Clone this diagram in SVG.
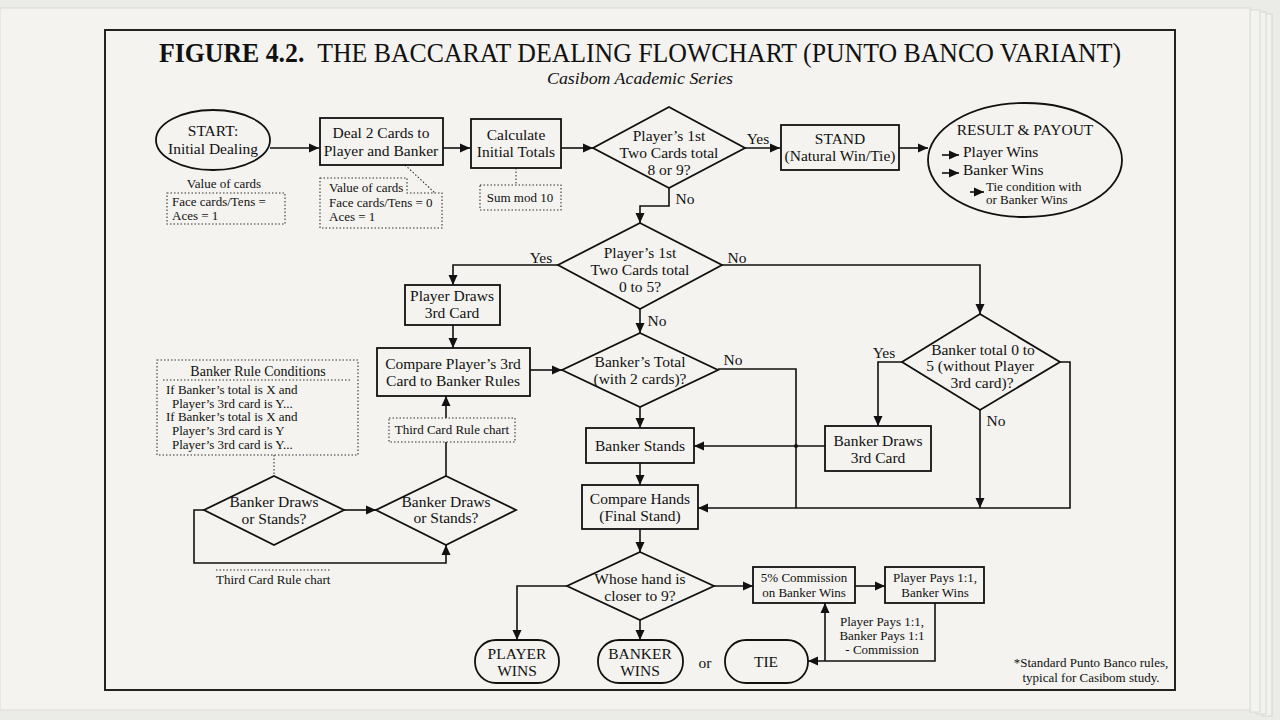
<svg xmlns="http://www.w3.org/2000/svg" width="1280" height="720" viewBox="0 0 1280 720">
<defs>
<marker id="ah" markerUnits="userSpaceOnUse" markerWidth="11" markerHeight="10" refX="10" refY="5" orient="auto">
<path d="M0,0.5 L10,5 L0,9.5 z" fill="#111"/>
</marker>
<style>
text{font-family:"Liberation Serif","DejaVu Serif",serif;fill:#111;}
.t{font-size:15.5px;text-anchor:middle;}
.s{font-size:13px;text-anchor:middle;}
.sl{font-size:13px;}
.box{fill:#f4f3ef;stroke:#111;stroke-width:1.8;}
.dot{fill:#f4f3ef;stroke:#333;stroke-width:1.1;stroke-dasharray:1.5 2;}
.dl{fill:none;stroke:#333;stroke-width:1.1;stroke-dasharray:1.5 2;}
.c{fill:none;stroke:#111;stroke-width:1.6;}
.ca{fill:none;stroke:#111;stroke-width:1.6;marker-end:url(#ah);}
</style>
</defs>
<rect width="1280" height="720" fill="#ebebe8"/>
<g id="pages">
<rect x="1262" y="14" width="10" height="702" fill="#f1f1ee" stroke="#d6d6d2"/>
<rect x="1256" y="12" width="10" height="702" fill="#f2f2ef" stroke="#d6d6d2"/>
<rect x="1250" y="10" width="10" height="702" fill="#f3f3f0" stroke="#d8d8d4"/>
<rect x="0" y="8" width="1250" height="702" fill="#f4f3ef" stroke="#dcdcd8"/>
</g>
<rect x="105" y="30" width="1070" height="660" fill="#f4f3ef" stroke="#222" stroke-width="2"/>
<g id="title">
<text x="640" y="62" font-size="28" text-anchor="middle" textLength="962" lengthAdjust="spacingAndGlyphs"><tspan font-weight="bold">FIGURE 4.2.</tspan><tspan dx="14">THE BACCARAT DEALING FLOWCHART (PUNTO BANCO VARIANT)</tspan></text>
<text x="640" y="84" font-size="17" font-style="italic" text-anchor="middle" textLength="186" lengthAdjust="spacingAndGlyphs">Casibom Academic Series</text>
</g>
<g id="connectors">
<path class="ca" d="M270,148 H319"/>
<path class="ca" d="M443,148 H470"/>
<path class="ca" d="M561,148 H593"/>
<path class="ca" d="M745,148 H780"/>
<path class="ca" d="M899,148 H928"/>
<path class="ca" d="M669,188 V206 H640 V223"/>
<path class="ca" d="M558,265 H453 V285"/>
<path class="ca" d="M722,265 H980 V314"/>
<path class="ca" d="M640,309 V333"/>
<path class="ca" d="M453,325 V348"/>
<path class="ca" d="M530,370 H562"/>
<path class="c" d="M718,369 H796 V508"/>
<path class="ca" d="M640,407 V428"/>
<path class="ca" d="M640,463 V485"/>
<path class="ca" d="M1060,362 H1070 V508 H698"/>
<path class="ca" d="M902,362 H878 V426"/>
<path class="ca" d="M980,410 V508"/>
<path class="ca" d="M825,446 H694"/>
<circle cx="796" cy="446" r="2" fill="#111"/>
<path class="ca" d="M344,510 H376"/>
<path class="ca" d="M446,476 V396"/>
<path class="ca" d="M204,510 H194 V563 H446 V545"/>
<path class="ca" d="M640,529 V552"/>
<path class="ca" d="M567,586 H517 V640"/>
<path class="ca" d="M640,620 V640"/>
<path class="ca" d="M714,586 H753"/>
<path class="ca" d="M855,586 H885"/>
<path class="ca" d="M935,603 V661 H808"/>
<path class="ca" d="M825,661 V603"/>
<path class="dl" d="M516,168 V185"/>
<path class="dl" d="M405,165 L435,193"/>
<path class="dl" d="M274,455 V476"/>
<path class="dl" d="M216,570 H330"/>
<text x="758" y="144" class="t">Yes</text>
<text x="685" y="204" class="t">No</text>
<text x="541" y="263" class="t">Yes</text>
<text x="737" y="263" class="t">No</text>
<text x="657" y="326" class="t">No</text>
<text x="733" y="365" class="t">No</text>
<text x="884" y="358" class="t">Yes</text>
<text x="996" y="426" class="t">No</text>
<text x="705" y="668" class="t">or</text>
</g>
<g id="start">
<ellipse cx="213" cy="140" rx="57" ry="30" class="box"/>
<text x="213" y="136" class="t">START:</text>
<text x="213" y="154" class="t">Initial Dealing</text>
</g>
<g id="note-value1">
<text x="224" y="188" class="s">Value of cards</text>
<rect x="167" y="193" width="118" height="31" class="dot"/>
<text x="172" y="206" class="sl">Face cards/Tens =</text>
<text x="172" y="220" class="sl">Aces = 1</text>
</g>
<g id="deal">
<rect x="320" y="118" width="123" height="47" class="box"/>
<text x="381" y="138" class="t">Deal 2 Cards to</text>
<text x="381" y="156" class="t">Player and Banker</text>
</g>
<g id="note-value2">
<path class="dot" d="M320,178 H407 V193 H442 V228 H320 Z"/>
<text x="329" y="192" class="sl">Value of cards</text>
<text x="329" y="207" class="sl">Face cards/Tens = 0</text>
<text x="329" y="221" class="sl">Aces = 1</text>
</g>
<g id="calc">
<rect x="471" y="119" width="90" height="49" class="box"/>
<text x="516" y="140" class="t">Calculate</text>
<text x="516" y="157" class="t">Initial Totals</text>
</g>
<g id="note-sum">
<rect x="480" y="185" width="81" height="25" class="dot"/>
<text x="520" y="202" class="s">Sum mod 10</text>
</g>
<g id="d-natural">
<polygon points="669,107 745,148 669,188 593,148" class="box"/>
<text x="669" y="141" class="t">Player’s 1st</text>
<text x="669" y="158" class="t">Two Cards total</text>
<text x="669" y="175" class="t">8 or 9?</text>
</g>
<g id="stand">
<rect x="781" y="125" width="118" height="45" class="box"/>
<text x="840" y="144" class="t">STAND</text>
<text x="840" y="161" class="t">(Natural Win/Tie)</text>
</g>
<g id="result">
<ellipse cx="1025" cy="160" rx="97" ry="57" class="box"/>
<text x="1025" y="135" class="t">RESULT &amp; PAYOUT</text>
<path class="ca" d="M942,155 H959"/>
<text x="963" y="157" font-size="15.5">Player Wins</text>
<path class="ca" d="M942,173 H959"/>
<text x="963" y="175" font-size="15.5">Banker Wins</text>
<path class="ca" d="M970,192 H984"/>
<text x="986" y="191" class="sl">Tie condition with</text>
<text x="986" y="204" class="sl">or Banker Wins</text>
</g>
<g id="d-draw">
<polygon points="640,223 722,265 640,309 558,265" class="box"/>
<text x="640" y="258" class="t">Player’s 1st</text>
<text x="640" y="275" class="t">Two Cards total</text>
<text x="640" y="292" class="t">0 to 5?</text>
</g>
<g id="player-draws">
<rect x="405" y="285" width="95" height="40" class="box"/>
<text x="452" y="301" class="t">Player Draws</text>
<text x="452" y="318" class="t">3rd Card</text>
</g>
<g id="compare3">
<rect x="377" y="348" width="153" height="48" class="box"/>
<text x="453" y="369" class="t">Compare Player’s 3rd</text>
<text x="453" y="386" class="t">Card to Banker Rules</text>
</g>
<g id="d-banker-total">
<polygon points="640,333 718,370 640,407 562,370" class="box"/>
<text x="640" y="367" class="t">Banker’s Total</text>
<text x="640" y="384" class="t">(with 2 cards)?</text>
</g>
<g id="banker-stands">
<rect x="586" y="428" width="108" height="35" class="box"/>
<text x="640" y="451" class="t">Banker Stands</text>
</g>
<g id="compare-hands">
<rect x="582" y="485" width="116" height="44" class="box"/>
<text x="640" y="504" class="t">Compare Hands</text>
<text x="640" y="521" class="t">(Final Stand)</text>
</g>
<g id="d-banker05">
<polygon points="980,314 1060,362 980,410 902,362" class="box"/>
<text x="983" y="355" class="t">Banker total 0 to</text>
<text x="980" y="371" class="t">5 (without Player</text>
<text x="982" y="388" class="t">3rd card)?</text>
</g>
<g id="banker-draws">
<rect x="825" y="426" width="106" height="45" class="box"/>
<text x="878" y="446" class="t">Banker Draws</text>
<text x="878" y="463" class="t">3rd Card</text>
</g>
<g id="rule-conditions">
<rect x="157" y="360" width="201" height="95" class="dot"/>
<text x="258" y="376" font-size="14" text-anchor="middle">Banker Rule Conditions</text>
<path class="dl" d="M163,380 H350"/>
<text x="166" y="394" class="sl">If Banker’s total is X and</text>
<text x="172" y="408" class="sl">Player’s 3rd card is Y...</text>
<text x="166" y="421" class="sl">If Banker’s total is X and</text>
<text x="172" y="435" class="sl">Player’s 3rd card is Y</text>
<text x="172" y="449" class="sl">Player’s 3rd card is Y...</text>
</g>
<g id="third-card-chart">
<rect x="389" y="418" width="126" height="24" class="dot"/>
<text x="452" y="434" class="s">Third Card Rule chart</text>
</g>
<g id="d-bds1">
<polygon points="274,476 344,510 274,545 204,510" class="box"/>
<text x="274" y="507" class="t">Banker Draws</text>
<text x="274" y="524" class="t">or Stands?</text>
</g>
<g id="d-bds2">
<polygon points="446,476 516,510 446,545 376,510" class="box"/>
<text x="446" y="507" class="t">Banker Draws</text>
<text x="446" y="523" class="t">or Stands?</text>
</g>
<g id="third-card-label">
<text x="216" y="584" class="sl">Third Card Rule chart</text>
</g>
<g id="d-closer">
<polygon points="640,552 714,586 640,620 567,586" class="box"/>
<text x="640" y="584" class="t">Whose hand is</text>
<text x="640" y="601" class="t">closer to 9?</text>
</g>
<g id="player-wins">
<rect x="475" y="640" width="84" height="43" rx="21" class="box"/>
<text x="517" y="659" class="t">PLAYER</text>
<text x="517" y="676" class="t">WINS</text>
</g>
<g id="banker-wins">
<rect x="598" y="640" width="85" height="43" rx="21" class="box"/>
<text x="640" y="659" class="t">BANKER</text>
<text x="640" y="676" class="t">WINS</text>
</g>
<g id="tie">
<rect x="725" y="640" width="83" height="43" rx="21" class="box"/>
<text x="766" y="667" class="t">TIE</text>
</g>
<g id="commission">
<rect x="753" y="567" width="102" height="36" class="box"/>
<text x="804" y="582" class="s">5% Commission</text>
<text x="804" y="597" class="s">on Banker Wins</text>
</g>
<g id="player-pays">
<rect x="885" y="567" width="99" height="36" class="box"/>
<text x="935" y="582" class="s">Player Pays 1:1,</text>
<text x="935" y="597" class="s">Banker Wins</text>
</g>
<g id="payout-note">
<text x="882" y="626" class="s">Player Pays 1:1,</text>
<text x="882" y="640" class="s">Banker Pays 1:1</text>
<text x="882" y="654" class="s">- Commission</text>
</g>
<g id="footnote">
<text x="1091" y="667" class="s">*Standard Punto Banco rules,</text>
<text x="1091" y="682" class="s">typical for Casibom study.</text>
</g>
</svg>
